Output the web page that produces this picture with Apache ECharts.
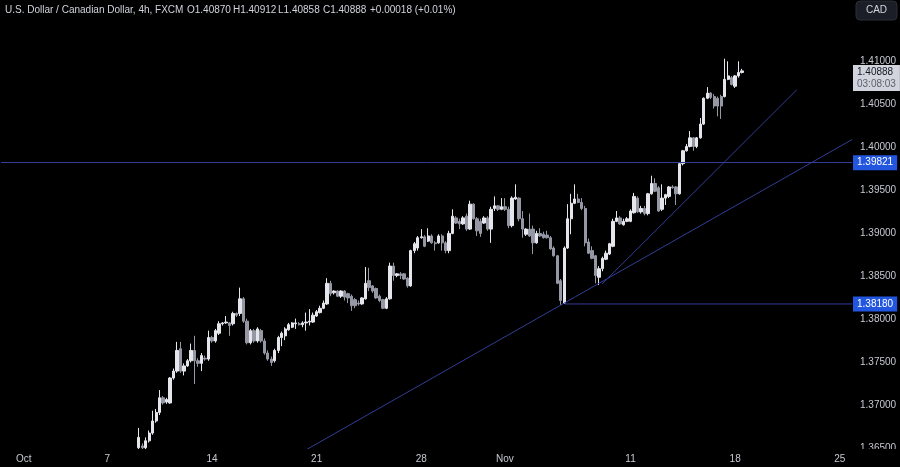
<!DOCTYPE html>
<html>
<head>
<meta charset="utf-8">
<script src="https://cdn.jsdelivr.net/npm/echarts@6/dist/echarts.min.js"></script>
<style>
html,body{margin:0;padding:0;background:#000;}
#c{width:900px;height:467px;}
</style>
</head>
<body>
<div id="c"></div>
<script>
// ---- categories: trading days, 6 four-hour bars each ----
const tradingDays = ['Sep 30','Oct 1','Oct 2','Oct 3','Oct 4','Oct 7','Oct 8','Oct 9','Oct 10','Oct 11',
  'Oct 14','Oct 15','Oct 16','Oct 17','Oct 18','Oct 21','Oct 22','Oct 23','Oct 24','Oct 25',
  'Oct 28','Oct 29','Oct 30','Oct 31','Nov 1','Nov 4','Nov 5','Nov 6','Nov 7','Nov 8',
  'Nov 11','Nov 12','Nov 13','Nov 14','Nov 15','Nov 18','Nov 19','Nov 20','Nov 21','Nov 22','Nov 25'];
const barHours = ['00:00','04:00','08:00','12:00','16:00','20:00'];
const visibleBars = 244;
const dateTickLabels = {'Oct 1':'Oct','Oct 7':'7','Oct 14':'14','Oct 21':'21','Oct 28':'28',
  'Nov 1':'Nov','Nov 11':'11','Nov 18':'18','Nov 25':'25'};

// ---- price axis ticks ----
const priceMin = 1.36, priceMax = 1.42, priceStep = 0.005;
const highestTickLabel = 1.41;

// ---- candles (first candle is bar index firstBar) ----
const firstBar = 39;
const opens = [
 1.3651,1.3653,1.3651,1.3659,1.3668,1.3682,1.3692,1.3709,1.3704,1.3703, // 39-48
 1.3732,1.3740,1.3766,1.3740,1.3746,1.3752,1.3764,1.3752,1.3749,1.3755, // 49-58
 1.3754,1.3779,1.3775,1.3784,1.3795,1.3796,1.3796,1.3795,1.3807,1.3807, // 59-68
 1.3824,1.3798,1.3773,1.3787,1.3775,1.3787,1.3775,1.3761,1.3754,1.3752, // 69-78
 1.3764,1.3779,1.3781,1.3788,1.3791,1.3795,1.3795,1.3794,1.3796,1.3797, // 79-88
 1.3797,1.3804,1.3808,1.3813,1.3818,1.3842,1.3831,1.3833,1.3827,1.3833, // 89-98
 1.3830,1.3827,1.3823,1.3819,1.3818,1.3824,1.3845,1.3839,1.3836,1.3827, // 99-108
 1.3823,1.3813,1.3824,1.3862,1.3851,1.3853,1.3853,1.3848,1.3839,1.3880, // 109-118
 1.3883,1.3895,1.3896,1.3891,1.3897,1.3889,1.3889,1.3897,1.3889,1.3880, // 119-128
 1.3900,1.3918,1.3914,1.3911,1.3920,1.3905,1.3934,1.3917,1.3914,1.3912, // 129-138
 1.3918,1.3905,1.3929,1.3932,1.3928,1.3931,1.3928,1.3909,1.3940,1.3941, // 139-148
 1.3917,1.3899,1.3905,1.3905,1.3889,1.3900,1.3899,1.3898,1.3895,1.3883, // 149-158
 1.3874,1.3845,1.3819,1.3883,1.3917,1.3935,1.3940,1.3936,1.3929,1.3890, // 159-168
 1.3880,1.3874,1.3849,1.3859,1.3870,1.3876,1.3885,1.3914,1.3918,1.3910, // 169-178
 1.3914,1.3914,1.3924,1.3941,1.3925,1.3929,1.3923,1.3946,1.3958,1.3953, // 179-188
 1.3928,1.3941,1.3943,1.3954,1.3954,1.3946,1.3981,1.3996,1.4001,1.4011, // 189-198
 1.4001,1.4011,1.4027,1.4057,1.4063,1.4059,1.4057,1.4059,1.4059,1.4079, // 199-208
 1.4081,1.4071,1.4083,1.40870                                           // 209-212
];
const closes = [
 1.3663,1.3651,1.3659,1.3668,1.3682,1.3692,1.3709,1.3703,1.3707,1.3732,
 1.3740,1.3764,1.3740,1.3746,1.3752,1.3764,1.3752,1.3749,1.3758,1.3754,
 1.3779,1.3775,1.3787,1.3795,1.3796,1.3797,1.3793,1.3807,1.3805,1.3824,
 1.3798,1.3773,1.3787,1.3775,1.3789,1.3775,1.3761,1.3754,1.3750,1.3764,
 1.3779,1.3784,1.3789,1.3794,1.3796,1.3796,1.3794,1.3796,1.3797,1.3798,
 1.3805,1.3809,1.3813,1.3819,1.3842,1.3830,1.3833,1.3827,1.3833,1.3826,
 1.3825,1.3816,1.3816,1.3818,1.3825,1.3842,1.3837,1.3833,1.3825,1.3822,
 1.3813,1.3824,1.3862,1.3851,1.3853,1.3851,1.3847,1.3839,1.3880,1.3888,
 1.3895,1.3896,1.3885,1.3897,1.3889,1.3888,1.3897,1.3889,1.3880,1.3900,
 1.3920,1.3912,1.3911,1.3918,1.3905,1.3934,1.3917,1.3903,1.3900,1.3918,
 1.3905,1.3928,1.3932,1.3928,1.3931,1.3928,1.3909,1.3941,1.3942,1.3917,
 1.3905,1.3905,1.3897,1.3889,1.3900,1.3897,1.3895,1.3895,1.3882,1.3874,
 1.3842,1.3822,1.3883,1.3917,1.3935,1.3940,1.3936,1.3929,1.3889,1.3877,
 1.3871,1.3851,1.3859,1.3871,1.3877,1.3888,1.3914,1.3918,1.3911,1.3914,
 1.3917,1.3926,1.3943,1.3925,1.3929,1.3923,1.3946,1.3958,1.3949,1.3926,
 1.3941,1.3945,1.3954,1.3953,1.3946,1.3981,1.3996,1.4001,1.4011,1.4001,
 1.4011,1.4027,1.4057,1.4063,1.4058,1.4048,1.4048,1.4048,1.4079,1.4083,
 1.4073,1.4083,1.4087,1.40888
];
const lows = [
 1.3642,1.3649,1.3649,1.3657,1.3666,1.3680,1.3689,1.3701,1.3702,1.3702,
 1.3730,1.3738,1.3738,1.3735,1.3745,1.3750,1.3725,1.3745,1.3740,1.3752,
 1.3752,1.3773,1.3773,1.3782,1.3793,1.3795,1.3781,1.3793,1.3803,1.3804,
 1.3796,1.3771,1.3771,1.3773,1.3773,1.3773,1.3759,1.3752,1.3746,1.3750,
 1.3761,1.3769,1.3776,1.3787,1.3790,1.3789,1.3793,1.3791,1.3787,1.3793,
 1.3796,1.3803,1.3807,1.3812,1.3817,1.3827,1.3829,1.3826,1.3825,1.3822,
 1.3819,1.3810,1.3813,1.3816,1.3817,1.3823,1.3833,1.3831,1.3824,1.3820,
 1.3812,1.3812,1.3823,1.3845,1.3849,1.3847,1.3846,1.3837,1.3838,1.3877,
 1.3880,1.3894,1.3884,1.3890,1.3888,1.3880,1.3888,1.3880,1.3877,1.3877,
 1.3899,1.3911,1.3905,1.3910,1.3903,1.3904,1.3916,1.3897,1.3896,1.3911,
 1.3903,1.3889,1.3926,1.3926,1.3927,1.3926,1.3906,1.3907,1.3939,1.3914,
 1.3895,1.3897,1.3896,1.3876,1.3888,1.3896,1.3894,1.3894,1.3881,1.3873,
 1.3841,1.3817,1.3818,1.3882,1.3899,1.3934,1.3935,1.3927,1.3885,1.3876,
 1.3870,1.3842,1.3840,1.3856,1.3869,1.3875,1.3884,1.3913,1.3910,1.3909,
 1.3913,1.3913,1.3923,1.3924,1.3923,1.3921,1.3921,1.3945,1.3948,1.3925,
 1.3926,1.3933,1.3941,1.3952,1.3933,1.3945,1.3979,1.3995,1.4000,1.3996,
 1.3999,1.4010,1.4026,1.4056,1.4056,1.4045,1.4036,1.4033,1.4058,1.4078,
 1.4072,1.4069,1.4081,1.40858
];
const highs = [
 1.3674,1.3656,1.3663,1.3671,1.3694,1.3696,1.3718,1.3711,1.3709,1.3733,
 1.3743,1.3774,1.3774,1.3749,1.3754,1.3772,1.3781,1.3755,1.3761,1.3758,
 1.3787,1.3781,1.3789,1.3798,1.3797,1.3804,1.3797,1.3809,1.3808,1.3837,
 1.3826,1.3801,1.3789,1.3789,1.3791,1.3789,1.3778,1.3764,1.3757,1.3766,
 1.3781,1.3786,1.3791,1.3796,1.3797,1.3801,1.3797,1.3798,1.3808,1.3812,
 1.3808,1.3811,1.3816,1.3822,1.3848,1.3845,1.3834,1.3834,1.3834,1.3834,
 1.3831,1.3829,1.3825,1.3822,1.3826,1.3861,1.3860,1.3840,1.3837,1.3829,
 1.3824,1.3826,1.3866,1.3866,1.3854,1.3855,1.3854,1.3849,1.3881,1.3890,
 1.3897,1.3905,1.3898,1.3906,1.3899,1.3891,1.3899,1.3899,1.3891,1.3903,
 1.3928,1.3920,1.3917,1.3920,1.3923,1.3938,1.3935,1.3919,1.3917,1.3920,
 1.3920,1.3931,1.3943,1.3933,1.3941,1.3941,1.3931,1.3943,1.3957,1.3942,
 1.3926,1.3906,1.3923,1.3909,1.3903,1.3906,1.3902,1.3903,1.3897,1.3885,
 1.3875,1.3847,1.3885,1.3934,1.3946,1.3957,1.3946,1.3941,1.3932,1.3894,
 1.3885,1.3875,1.3862,1.3873,1.3880,1.3889,1.3917,1.3926,1.3920,1.3917,
 1.3919,1.3928,1.3947,1.3943,1.3932,1.3932,1.3947,1.3967,1.3964,1.3955,
 1.3957,1.3946,1.3955,1.3956,1.3955,1.3982,1.3997,1.4004,1.4019,1.4012,
 1.4012,1.4034,1.4058,1.4070,1.4064,1.4062,1.4059,1.4061,1.4103,1.4100,
 1.4083,1.4084,1.4100,1.40912
];

// ---- annotations (bar index, price) ----
const trendLineA = [[85, 1.3644], [243.5, 1.4009]];
const trendLineB = [[171.8, 1.3841], [227.7, 1.4067]];
const resistanceLevel = 1.39821;
const supportLevel = 1.38180;
const supportStartBar = 161.2;
const lastPrice = 1.40888;
const countdown = '03:08:03';

// ---- header text ----
const headerParts = [
  {text: 'U.S. Dollar / Canadian Dollar, 4h, FXCM', x: 5},
  {text: 'O1.40870', x: 187},
  {text: 'H1.40912', x: 233},
  {text: 'L1.40858', x: 278},
  {text: 'C1.40888', x: 323},
  {text: '+0.00018 (+0.01%)', x: 370}
];

// ---- build ----
const categories = [];
tradingDays.forEach(d => barHours.forEach(h => categories.push(d + ' ' + h)));
categories.length = visibleBars;
const tickAt = {};
categories.forEach((c, i) => {
  const [mon, day, hr] = c.split(' ');
  const key = mon + ' ' + day;
  if (hr === barHours[0] && dateTickLabels[key]) tickAt[i] = dateTickLabels[key];
});
const candleData = categories.map((c, i) => {
  const k = i - firstBar;
  if (k < 0 || k >= opens.length) return ['-','-','-','-'];
  return [opens[k], closes[k], lows[k], highs[k]];
});

const FONT = '"Liberation Sans", Arial, sans-serif';
const LINE = '#313d96';
const BLUE = '#2356df';
const TXT = '#c6c9d1';
const NOLINE = 'rgba(0,0,0,0)';
const UP = '#e4e6ec', DOWN = '#9598a4';

const chart = echarts.init(document.getElementById('c'), null, {renderer: 'canvas'});
const option = {
  backgroundColor: '#000000',
  animation: false,
  grid: {left: 1, width: 851, top: -24.8, height: 516.4, containLabel: false, outerBoundsMode: 'none'},
  xAxis: [{
    type: 'category', data: categories, boundaryGap: true, z: 10,
    offset: -42,
    axisLine: {show: false}, axisTick: {show: false}, splitLine: {show: false},
    axisLabel: {
      interval: (index) => tickAt[index] !== undefined,
      formatter: (value, index) => tickAt[index] || '',
      color: TXT, fontSize: 10, fontFamily: FONT, margin: 5
    }
  }, {
    type: 'value', min: -0.5, max: visibleBars - 0.5, show: false
  }],
  yAxis: [{
    type: 'value', position: 'right', min: priceMin, max: priceMax, interval: priceStep,
    axisLine: {show: false}, axisTick: {show: false}, splitLine: {show: false},
    axisLabel: {color: TXT, fontSize: 10, fontFamily: FONT, margin: 8,
      formatter: v => (v > highestTickLabel + 1e-6 ? '' : v.toFixed(5))}
  }],
  series: [{
    type: 'candlestick', name: 'USDCAD', data: candleData, barWidth: '82%',
    xAxisIndex: 0, yAxisIndex: 0,
    itemStyle: {color: UP, color0: DOWN, borderColor: UP, borderColor0: DOWN, borderWidth: 1},
    markLine: {
      silent: true, symbol: ['none', 'none'], animation: false, precision: 5,
      lineStyle: {color: LINE, width: 1, type: 'solid'},
      data: [
        {yAxis: resistanceLevel, lineStyle: {color: LINE, width: 1, type: 'solid'},
          label: {show: true, position: 'end', distance: 1, formatter: resistanceLevel.toFixed(5),
            backgroundColor: BLUE, color: '#ffffff', fontSize: 10, fontFamily: FONT, padding: [2, 4, 1, 4], lineHeight: 12}},
        {yAxis: supportLevel, lineStyle: {color: NOLINE, width: 1},
          label: {show: true, position: 'end', distance: 1, formatter: supportLevel.toFixed(5),
            backgroundColor: BLUE, color: '#ffffff', fontSize: 10, fontFamily: FONT, padding: [2, 4, 1, 4], lineHeight: 12}},
        {yAxis: lastPrice, lineStyle: {color: NOLINE, width: 1},
          label: {show: true, position: 'end', distance: 1, offset: [0, 7],
            formatter: '{p|' + lastPrice.toFixed(5) + '}\n{t|' + countdown + '}',
            backgroundColor: '#d1d4dc', padding: [1, 4, 1, 4],
            rich: {p: {color: '#131722', fontSize: 10, fontFamily: FONT, lineHeight: 12},
                   t: {color: '#5d606b', fontSize: 10, fontFamily: FONT, lineHeight: 12}}}}
      ]
    }
  }, {
    type: 'line', xAxisIndex: 1, yAxisIndex: 0, data: trendLineA, symbol: 'none', silent: true,
    lineStyle: {color: LINE, width: 1}, z: 3
  }, {
    type: 'line', xAxisIndex: 1, yAxisIndex: 0, data: trendLineB, symbol: 'none', silent: true,
    lineStyle: {color: LINE, width: 1}, z: 3
  }, {
    type: 'line', xAxisIndex: 1, yAxisIndex: 0,
    data: [[supportStartBar, supportLevel], [visibleBars - 0.5, supportLevel]],
    symbol: 'none', silent: true, lineStyle: {color: LINE, width: 1}, z: 3
  }],
  graphic: [
    {type: 'rect', z: 5, silent: true, shape: {x: 0, y: 449, width: 900, height: 18}, style: {fill: '#000000'}},
    {type: 'rect', z: 20, silent: true, shape: {x: 856, y: 1, width: 41, height: 19, r: 4},
      style: {fill: '#1b1e26', stroke: '#2a2e39', lineWidth: 1}},
    {type: 'text', z: 21, silent: true, x: 876.5, y: 10.5,
      style: {text: 'CAD', fill: '#d1d4dc', font: '10px ' + FONT, textAlign: 'center', textVerticalAlign: 'middle'}}
  ].concat(headerParts.map(p => ({
    type: 'text', z: 21, silent: true, x: p.x, y: 10.5,
    style: {text: p.text, fill: '#d1d4dc', font: '10px ' + FONT, textAlign: 'left', textVerticalAlign: 'middle'}
  })))
};
chart.setOption(option);
</script>
</body>
</html>
